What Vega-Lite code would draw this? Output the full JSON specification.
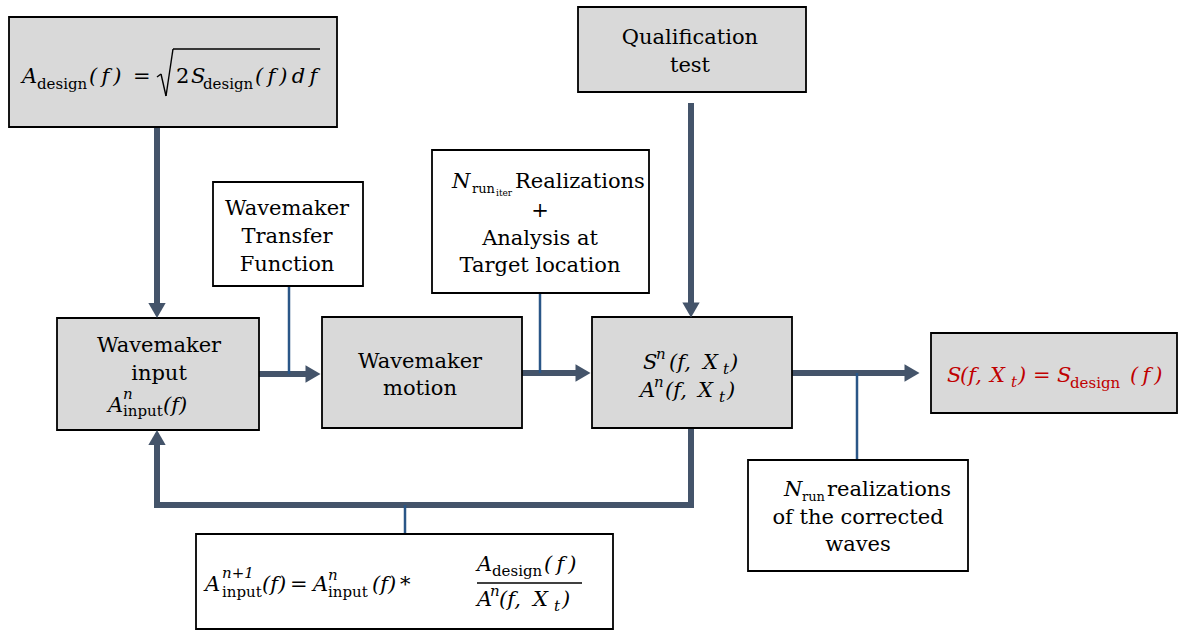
{
  "$schema": "https://vega.github.io/schema/vega-lite/v6.json",
  "width": 1179,
  "height": 631,
  "padding": 0,
  "autosize": {"type": "fit", "contains": "padding"},
  "background": "white",
  "config": {"view": {"stroke": null}},
  "datasets": {
    "boxes": [
      {"box": "design", "shade": "filled", "x1": 9, "x2": 337, "y1": 17, "y2": 127},
      {"box": "qual", "shade": "filled", "x1": 578, "x2": 806, "y1": 7, "y2": 92},
      {"box": "tf", "shade": "open", "x1": 213, "x2": 363, "y1": 182, "y2": 286},
      {"box": "real", "shade": "open", "x1": 432, "x2": 649, "y1": 150, "y2": 293},
      {"box": "input", "shade": "filled", "x1": 57, "x2": 259, "y1": 318, "y2": 430},
      {"box": "motion", "shade": "filled", "x1": 322, "x2": 522, "y1": 317, "y2": 428},
      {"box": "sn", "shade": "filled", "x1": 592, "x2": 792, "y1": 317, "y2": 428},
      {"box": "result", "shade": "filled", "x1": 931, "x2": 1177, "y1": 333, "y2": 413},
      {"box": "nrun", "shade": "open", "x1": 748, "x2": 968, "y1": 460, "y2": 571},
      {"box": "update", "shade": "open", "x1": 196, "x2": 613, "y1": 534, "y2": 629}
    ],
    "lines": [
      {"kind": "thick", "x1": 157, "y1": 127, "x2": 157, "y2": 304},
      {"kind": "thick", "x1": 691, "y1": 106, "x2": 691, "y2": 304},
      {"kind": "thick", "x1": 259, "y1": 374, "x2": 306, "y2": 374},
      {"kind": "thick", "x1": 523, "y1": 373, "x2": 576, "y2": 373},
      {"kind": "thick", "x1": 792, "y1": 373, "x2": 905, "y2": 373},
      {"kind": "thick", "x1": 691, "y1": 428, "x2": 691, "y2": 505},
      {"kind": "thick", "x1": 691, "y1": 505, "x2": 157, "y2": 505},
      {"kind": "thick", "x1": 157, "y1": 505, "x2": 157, "y2": 446},
      {"kind": "thin", "x1": 289, "y1": 287, "x2": 289, "y2": 374},
      {"kind": "thin", "x1": 540, "y1": 293, "x2": 540, "y2": 373},
      {"kind": "thin", "x1": 857, "y1": 373, "x2": 857, "y2": 460},
      {"kind": "thin", "x1": 405, "y1": 505, "x2": 405, "y2": 533},
      {"kind": "math", "x1": 157, "y1": 77, "x2": 161, "y2": 74},
      {"kind": "math", "x1": 161, "y1": 74, "x2": 166, "y2": 96},
      {"kind": "math", "x1": 166, "y1": 96, "x2": 173, "y2": 49},
      {"kind": "math", "x1": 173, "y1": 49, "x2": 320, "y2": 49},
      {"kind": "math", "x1": 477, "y1": 583, "x2": 582, "y2": 583}
    ],
    "heads": [
      {"dir": "down", "x": 157, "y": 310.5},
      {"dir": "down", "x": 691, "y": 310},
      {"dir": "right", "x": 313, "y": 374},
      {"dir": "right", "x": 583, "y": 373},
      {"dir": "right", "x": 912, "y": 373},
      {"dir": "up", "x": 157, "y": 437.5}
    ],
    "labels": [
      {"box": "qual", "x": 690, "y": 44, "t": "Qualification"},
      {"box": "qual", "x": 690, "y": 72, "t": "test"},
      {"box": "tf", "x": 287, "y": 215, "t": "Wavemaker"},
      {"box": "tf", "x": 287, "y": 243, "t": "Transfer"},
      {"box": "tf", "x": 287, "y": 271, "t": "Function"},
      {"box": "real", "x": 540, "y": 217, "t": "+"},
      {"box": "real", "x": 540, "y": 245, "t": "Analysis at"},
      {"box": "real", "x": 540, "y": 272, "t": "Target location"},
      {"box": "input", "x": 159, "y": 352, "t": "Wavemaker"},
      {"box": "input", "x": 159, "y": 380, "t": "input"},
      {"box": "motion", "x": 420, "y": 368, "t": "Wavemaker"},
      {"box": "motion", "x": 420, "y": 395, "t": "motion"},
      {"box": "nrun", "x": 858, "y": 524, "t": "of the corrected"},
      {"box": "nrun", "x": 858, "y": 551, "t": "waves"}
    ],
    "math": [
      {"box": "design", "k": "it", "x": 22, "y": 83, "t": "A"},
      {"box": "design", "k": "sub", "x": 37, "y": 89, "t": "design"},
      {"box": "design", "k": "it", "x": 89, "y": 83, "t": "(\u2009f\u2009)"},
      {"box": "design", "k": "rm", "x": 133, "y": 83, "t": "="},
      {"box": "design", "k": "rm", "x": 176, "y": 83, "t": "2"},
      {"box": "design", "k": "it", "x": 191, "y": 83, "t": "S"},
      {"box": "design", "k": "sub", "x": 203, "y": 89, "t": "design"},
      {"box": "design", "k": "it", "x": 255, "y": 83, "t": "(\u2009f\u2009)\u2009d\u2009f"},
      {"box": "input", "k": "it", "x": 108, "y": 412, "t": "A"},
      {"box": "input", "k": "sup", "x": 123, "y": 399, "t": "n"},
      {"box": "input", "k": "sub", "x": 123, "y": 416, "t": "input"},
      {"box": "input", "k": "it", "x": 163, "y": 412, "t": "(f)"},
      {"box": "real", "k": "it", "x": 452, "y": 188, "t": "N"},
      {"box": "real", "k": "small", "x": 472, "y": 193, "t": "run"},
      {"box": "real", "k": "tiny", "x": 496, "y": 196, "t": "iter"},
      {"box": "real", "k": "rm", "x": 515, "y": 188, "t": "Realizations"},
      {"box": "sn", "k": "it", "x": 643, "y": 369, "t": "S"},
      {"box": "sn", "k": "sup", "x": 656, "y": 359, "t": "n"},
      {"box": "sn", "k": "it", "x": 669, "y": 369, "t": "(f,"},
      {"box": "sn", "k": "it", "x": 703, "y": 369, "t": "X"},
      {"box": "sn", "k": "itsub", "x": 723, "y": 374, "t": "t"},
      {"box": "sn", "k": "it", "x": 730, "y": 369, "t": ")"},
      {"box": "sn", "k": "it", "x": 640, "y": 397, "t": "A"},
      {"box": "sn", "k": "sup", "x": 654, "y": 387, "t": "n"},
      {"box": "sn", "k": "it", "x": 665, "y": 397, "t": "(f,"},
      {"box": "sn", "k": "it", "x": 698, "y": 397, "t": "X"},
      {"box": "sn", "k": "itsub", "x": 719, "y": 402, "t": "t"},
      {"box": "sn", "k": "it", "x": 727, "y": 397, "t": ")"},
      {"box": "result", "k": "it", "x": 947, "y": 382, "t": "S"},
      {"box": "result", "k": "it", "x": 960, "y": 382, "t": "(f,"},
      {"box": "result", "k": "it", "x": 990, "y": 382, "t": "X"},
      {"box": "result", "k": "itsub", "x": 1011, "y": 387, "t": "t"},
      {"box": "result", "k": "it", "x": 1018, "y": 382, "t": ")"},
      {"box": "result", "k": "rm", "x": 1033, "y": 382, "t": "="},
      {"box": "result", "k": "it", "x": 1057, "y": 382, "t": "S"},
      {"box": "result", "k": "sub", "x": 1070, "y": 388, "t": "design"},
      {"box": "result", "k": "it", "x": 1130, "y": 382, "t": "(\u2009f\u2009)"},
      {"box": "nrun", "k": "it", "x": 784, "y": 496, "t": "N"},
      {"box": "nrun", "k": "small", "x": 802, "y": 501, "t": "run"},
      {"box": "nrun", "k": "rm", "x": 827, "y": 496, "t": "realizations"},
      {"box": "update", "k": "it", "x": 205, "y": 591, "t": "A"},
      {"box": "update", "k": "sup", "x": 222, "y": 578, "t": "n+1"},
      {"box": "update", "k": "sub", "x": 222, "y": 597, "t": "input"},
      {"box": "update", "k": "it", "x": 262, "y": 591, "t": "(f)"},
      {"box": "update", "k": "rm", "x": 290, "y": 591, "t": "="},
      {"box": "update", "k": "it", "x": 313, "y": 591, "t": "A"},
      {"box": "update", "k": "sup", "x": 328, "y": 580, "t": "n"},
      {"box": "update", "k": "sub", "x": 328, "y": 597, "t": "input"},
      {"box": "update", "k": "it", "x": 372, "y": 591, "t": "(f)"},
      {"box": "update", "k": "rm", "x": 400, "y": 591, "t": "*"},
      {"box": "update", "k": "it", "x": 477, "y": 571, "t": "A"},
      {"box": "update", "k": "sub", "x": 492, "y": 576, "t": "design"},
      {"box": "update", "k": "it", "x": 544, "y": 571, "t": "(\u2009f\u2009)"},
      {"box": "update", "k": "it", "x": 477, "y": 606, "t": "A"},
      {"box": "update", "k": "sup", "x": 490, "y": 596, "t": "n"},
      {"box": "update", "k": "it", "x": 499, "y": 606, "t": "(f,"},
      {"box": "update", "k": "it", "x": 533, "y": 606, "t": "X"},
      {"box": "update", "k": "itsub", "x": 554, "y": 611, "t": "t"},
      {"box": "update", "k": "it", "x": 562, "y": 606, "t": ")"}
    ]
  },
  "layer": [
    {
      "data": {"name": "lines"},
      "transform": [{"filter": "datum.kind === 'thick'"}],
      "mark": {"type": "rule", "color": "#44546A", "strokeWidth": 6, "strokeCap": "square"},
      "encoding": {
        "x": {"field": "x1", "type": "quantitative", "scale": {"domain": [0, 1179], "nice": false, "zero": false}, "axis": null},
        "y": {"field": "y1", "type": "quantitative", "scale": {"domain": [0, 631], "nice": false, "zero": false, "reverse": true}, "axis": null},
        "x2": {"field": "x2"},
        "y2": {"field": "y2"}
      }
    },
    {
      "data": {"name": "lines"},
      "transform": [{"filter": "datum.kind === 'thin'"}],
      "mark": {"type": "rule", "color": "#2A5687", "strokeWidth": 2.5},
      "encoding": {
        "x": {"field": "x1", "type": "quantitative", "axis": null},
        "y": {"field": "y1", "type": "quantitative", "axis": null},
        "x2": {"field": "x2"},
        "y2": {"field": "y2"}
      }
    },
    {
      "data": {"name": "boxes"},
      "mark": {"type": "rect", "stroke": "#000000", "strokeWidth": 1.8},
      "encoding": {
        "x": {"field": "x1", "type": "quantitative", "axis": null},
        "x2": {"field": "x2"},
        "y": {"field": "y1", "type": "quantitative", "axis": null},
        "y2": {"field": "y2"},
        "fill": {"field": "shade", "type": "nominal", "scale": {"domain": ["filled", "open"], "range": ["#D9D9D9", "#FFFFFF"]}, "legend": null}
      }
    },
    {
      "data": {"name": "lines"},
      "transform": [{"filter": "datum.kind === 'math'"}],
      "mark": {"type": "rule", "color": "#000000", "strokeWidth": 1.4},
      "encoding": {
        "x": {"field": "x1", "type": "quantitative", "axis": null},
        "y": {"field": "y1", "type": "quantitative", "axis": null},
        "x2": {"field": "x2"},
        "y2": {"field": "y2"}
      }
    },
    {
      "data": {"name": "heads"},
      "mark": {"type": "point", "filled": true, "size": 300, "opacity": 1, "color": "#44546A", "strokeWidth": 0},
      "encoding": {
        "x": {"field": "x", "type": "quantitative", "axis": null},
        "y": {"field": "y", "type": "quantitative", "axis": null},
        "shape": {"field": "dir", "type": "nominal", "scale": {"domain": ["down", "right", "up"], "range": ["triangle-down", "triangle-right", "triangle-up"]}, "legend": null}
      }
    },
    {
      "data": {"name": "labels"},
      "mark": {"type": "text", "font": "DejaVu Serif", "fontSize": 21, "align": "center", "baseline": "alphabetic", "color": "#000000"},
      "encoding": {
        "x": {"field": "x", "type": "quantitative", "axis": null},
        "y": {"field": "y", "type": "quantitative", "axis": null},
        "text": {"field": "t"}
      }
    },
    {
      "data": {"name": "math"},
      "transform": [{"filter": "datum.k === 'it'"}],
      "mark": {"type": "text", "font": "DejaVu Serif", "fontStyle": "italic", "fontSize": 21, "align": "left", "baseline": "alphabetic"},
      "encoding": {
        "x": {"field": "x", "type": "quantitative", "axis": null},
        "y": {"field": "y", "type": "quantitative", "axis": null},
        "text": {"field": "t"},
        "color": {"condition": {"test": "datum.box === 'result'", "value": "#C00000"}, "value": "#000000"}
      }
    },
    {
      "data": {"name": "math"},
      "transform": [{"filter": "datum.k === 'rm'"}],
      "mark": {"type": "text", "font": "DejaVu Serif", "fontSize": 21, "align": "left", "baseline": "alphabetic"},
      "encoding": {
        "x": {"field": "x", "type": "quantitative", "axis": null},
        "y": {"field": "y", "type": "quantitative", "axis": null},
        "text": {"field": "t"},
        "color": {"condition": {"test": "datum.box === 'result'", "value": "#C00000"}, "value": "#000000"}
      }
    },
    {
      "data": {"name": "math"},
      "transform": [{"filter": "datum.k === 'sub'"}],
      "mark": {"type": "text", "font": "DejaVu Serif", "fontSize": 15, "align": "left", "baseline": "alphabetic"},
      "encoding": {
        "x": {"field": "x", "type": "quantitative", "axis": null},
        "y": {"field": "y", "type": "quantitative", "axis": null},
        "text": {"field": "t"},
        "color": {"condition": {"test": "datum.box === 'result'", "value": "#C00000"}, "value": "#000000"}
      }
    },
    {
      "data": {"name": "math"},
      "transform": [{"filter": "datum.k === 'small'"}],
      "mark": {"type": "text", "font": "DejaVu Serif", "fontSize": 13, "align": "left", "baseline": "alphabetic", "color": "#000000"},
      "encoding": {
        "x": {"field": "x", "type": "quantitative", "axis": null},
        "y": {"field": "y", "type": "quantitative", "axis": null},
        "text": {"field": "t"}
      }
    },
    {
      "data": {"name": "math"},
      "transform": [{"filter": "datum.k === 'sup' || datum.k === 'itsub'"}],
      "mark": {"type": "text", "font": "DejaVu Serif", "fontStyle": "italic", "fontSize": 15, "align": "left", "baseline": "alphabetic"},
      "encoding": {
        "x": {"field": "x", "type": "quantitative", "axis": null},
        "y": {"field": "y", "type": "quantitative", "axis": null},
        "text": {"field": "t"},
        "color": {"condition": {"test": "datum.box === 'result'", "value": "#C00000"}, "value": "#000000"}
      }
    },
    {
      "data": {"name": "math"},
      "transform": [{"filter": "datum.k === 'tiny'"}],
      "mark": {"type": "text", "font": "DejaVu Serif", "fontSize": 9, "align": "left", "baseline": "alphabetic", "color": "#000000"},
      "encoding": {
        "x": {"field": "x", "type": "quantitative", "axis": null},
        "y": {"field": "y", "type": "quantitative", "axis": null},
        "text": {"field": "t"}
      }
    }
  ]
}
